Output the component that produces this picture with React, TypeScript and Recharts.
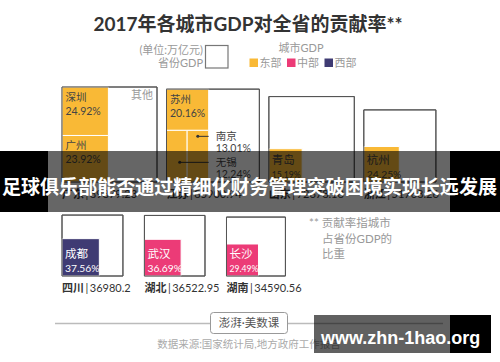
import React from 'react';
import { ScatterChart, Scatter, XAxis, YAxis, ReferenceArea, ReferenceLine, ReferenceDot } from 'recharts';

// ---------------- data ----------------
const provinces = ['广东', '江苏', '山东', '浙江', '四川', '湖北', '湖南'];
const provinceGDP = [89879.23, 85900.94, 72678.18, 51768.26, 36980.2, 36522.95, 34590.56];
const provinceRegion = ['东部', '东部', '东部', '东部', '西部', '中部', '中部'];
const provinceRow = [0, 0, 0, 0, 1, 1, 1];
const otherLabelProvinces = ['广东'];

const cityNames = ['深圳', '广州', '苏州', '南京', '无锡', '青岛', '杭州', '成都', '武汉', '长沙'];
const cityProvince = ['广东', '广东', '江苏', '江苏', '江苏', '山东', '浙江', '四川', '湖北', '湖南'];
const cityShare = [24.92, 23.92, 20.16, 13.01, 12.24, 15.19, 24.25, 37.56, 36.69, 29.49];

const regionNames = ['东部', '中部', '西部'];
const regionColors = ['#F9B936', '#EC3B77', '#3F3B73'];

// ---------------- layout ----------------
const W = 500;
const H = 362;
const FONT = "Lato, 'Noto Sans CJK SC', sans-serif";
const MAX_SIDE = 95;
const ROW_BOTTOM = [182, 276];
const ROW_LEFT = 62;
const ROW_GAP = [9.5, 21.5];
const k = MAX_SIDE / Math.sqrt(Math.max(...provinceGDP));

type Box = { name: string; gdp: number; region: string; x: number; top: number; bottom: number; side: number };
const boxes: Box[] = [];
const cursor = [ROW_LEFT, ROW_LEFT];
provinces.forEach((p, i) => {
  const r = provinceRow[i];
  const s = k * Math.sqrt(provinceGDP[i]);
  boxes.push({ name: p, gdp: provinceGDP[i], region: provinceRegion[i], x: cursor[r], top: ROW_BOTTOM[r] - s, bottom: ROW_BOTTOM[r], side: s });
  cursor[r] += s + ROW_GAP[r];
});

type Cell = { name: string; share: number; x1: number; x2: number; y1: number; y2: number; color: string; mode: string };
const cells: Cell[] = [];
boxes.forEach((b) => {
  const idx = cityProvince.map((c, i) => (c === b.name ? i : -1)).filter((i) => i >= 0);
  const shares = idx.map((i) => cityShare[i] / 100);
  const color = regionColors[regionNames.indexOf(b.region)];
  if (idx.length === 1) {
    const s = b.side * Math.sqrt(shares[0]);
    cells.push({ name: cityNames[idx[0]], share: cityShare[idx[0]], x1: b.x, x2: b.x + s, y1: b.bottom - s, y2: b.bottom, color, mode: 'bottom' });
  } else {
    const total = shares.reduce((a, v) => a + v, 0);
    const w = b.side * total;
    const h1 = (b.side * shares[0]) / total;
    cells.push({ name: cityNames[idx[0]], share: cityShare[idx[0]], x1: b.x, x2: b.x + w, y1: b.top, y2: b.top + h1, color, mode: 'top' });
    if (idx.length === 2) {
      cells.push({ name: cityNames[idx[1]], share: cityShare[idx[1]], x1: b.x, x2: b.x + w, y1: b.top + h1, y2: b.bottom, color, mode: 'top' });
    } else {
      const rest = shares[1] + shares[2];
      const wl = (w * shares[2]) / rest;
      cells.push({ name: cityNames[idx[1]], share: cityShare[idx[1]], x1: b.x + wl, x2: b.x + w, y1: b.top + h1, y2: b.bottom, color, mode: 'pointer0' });
      cells.push({ name: cityNames[idx[2]], share: cityShare[idx[2]], x1: b.x, x2: b.x + wl, y1: b.top + h1, y2: b.bottom, color, mode: 'pointer1' });
    }
  }
});

type Lab = { x: number; y: number; name: string; value: string; color: string; nameSize: number; valueSize: number; gap: number };
const labels: Lab[] = [];
type Ptr = { x1: number; x2: number; y: number };
const pointers: Ptr[] = [];
const colRightOf = (c: Cell) => (c.mode === 'pointer0' ? c.x2 : cells.find((o) => o.mode === 'pointer0')!.x2);
cells.forEach((c) => {
  const value = c.share.toFixed(2) + '%';
  const w = c.x2 - c.x1;
  const txt = c.color === regionColors[0] ? '#444' : '#fff';
  if (c.mode === 'top') {
    labels.push({ x: c.x1 + 3.5, y: c.y1 + 14, name: c.name, value, color: txt, nameSize: 10.5, valueSize: 10.5, gap: 13.5 });
  } else if (c.mode === 'bottom') {
    labels.push({ x: c.x1 + 3, y: c.y2 - 18, name: c.name, value, color: txt, nameSize: 11.5, valueSize: w < 33.5 ? 8.6 : 10.3, gap: 13.5 });
  } else {
    const py = c.y1 + (c.mode === 'pointer0' ? 6 : 32);
    const colRight = colRightOf(c);
    pointers.push({ x1: (c.x1 + c.x2) / 2 + (c.mode === 'pointer1' ? 3 : 0), x2: colRight, y: py });
    labels.push({ x: colRight + 7, y: py + 4, name: c.name, value, color: '#444', nameSize: 10.5, valueSize: 10.5, gap: 12 });
  }
});

const provLabels = boxes.map((b) => ({ x: b.x, y: b.bottom + 15.5, name: b.name, value: String(b.gdp) }));
const otherLabels = boxes.filter((b) => otherLabelProvinces.includes(b.name)).map((b) => ({ x: b.x + b.side - 4, y: b.top + 12 }));

// ---------------- shapes ----------------
const renderCityLabel = (props: any) => {
  const { cx, cy, payload } = props;
  if (cx == null || cy == null) return <g />;
  return (
    <g>
      <text x={cx} y={cy} fontSize={payload.nameSize} fill={payload.color} fontFamily={FONT}>{payload.name}</text>
      <text x={cx} y={cy + payload.gap} fontSize={payload.valueSize} fill={payload.color} fontFamily={FONT}>{payload.value}</text>
    </g>
  );
};

const renderProvLabel = (props: any) => {
  const { cx, cy, payload } = props;
  if (cx == null || cy == null) return <g />;
  return (
    <text x={cx} y={cy} fontSize={11} fill="#333" fontFamily={FONT}>
      <tspan fontWeight={700}>{payload.name}</tspan>
      <tspan dx={1.5}>|</tspan>
      <tspan dx={1.5}>{payload.value}</tspan>
    </text>
  );
};

const renderOther = (props: any) => {
  const { cx, cy } = props;
  if (cx == null || cy == null) return <g />;
  return <text x={cx} y={cy} fontSize={11} fill="#999" textAnchor="end" fontFamily={FONT}>其他</text>;
};

// ---------------- overlay (title, legend, notes, banner) ----------------
const Overlay = () => (
  <svg width={W} height={H} style={{ position: 'absolute', left: 0, top: 0, pointerEvents: 'none' }} fontFamily={FONT}>
    <text x={248} y={31} textAnchor="middle" fontSize={19} fontWeight={700} fill="#333">2017年各城市GDP对全省的贡献率**</text>
    <text x={203} y={54} textAnchor="end" fontSize={11} fill="#999">(单位:万亿元)</text>
    <text x={203} y={67} textAnchor="end" fontSize={11} fill="#999">省份GDP</text>
    <rect x={205.5} y={45.5} width={22.5} height={22.5} fill="#fff" stroke="#777" strokeWidth={1.2} />
    <text x={301} y={52} textAnchor="middle" fontSize={11} fill="#999">城市GDP</text>
    {regionNames.map((r, i) => (
      <g key={r}>
        <rect x={249.5 + i * 37.5} y={58.5} width={8.5} height={8.5} fill={regionColors[i]} />
        <text x={259.5 + i * 37.5} y={67} fontSize={11} fill="#999">{r}</text>
      </g>
    ))}
    <text x={309} y={227} fontSize={11.5} fill="#999">** 贡献率指城市</text>
    <text x={322} y={243} fontSize={11.5} fill="#999">占省份GDP的</text>
    <text x={322} y={258} fontSize={11.5} fill="#999">比重</text>
    <line x1={55} x2={443} y1={323.5} y2={323.5} stroke="#bbb" strokeWidth={1.5} />
    <rect x={210.5} y={312.5} width={77} height={21} rx={3} fill="#fff" stroke="#999" strokeWidth={1} />
    <text x={249} y={327} textAnchor="middle" fontSize={11.5} fill="#555">澎湃·美数课</text>
    <text x={249} y={348} textAnchor="middle" fontSize={10.5} fill="#aaa">数据来源:国家统计局,地方政府工作报告</text>
    {/* banner */}
    <rect x={0} y={151} width={48} height={61} fill="#000" />
    <rect x={450} y={151} width={50} height={61} fill="#000" />
    <rect x={48} y={151} width={402} height={61} fill="rgba(0,0,0,0.6)" />
    <text x={2} y={194} fontSize={19.5} fontWeight={700} fill="#fff" textLength={495} lengthAdjust="spacingAndGlyphs" fontFamily="'Noto Sans CJK SC', sans-serif">足球俱乐部能否通过精细化财务管理突破困境实现长远发展</text>
    {/* watermark */}
    <rect x={314} y={315} width={136} height={38} fill="rgba(0,0,0,0.62)" />
    <rect x={450} y={315} width={41} height={38} fill="#000" />
    <text x={321} y={344} fontSize={18} fontWeight={700} fill="#fff" fontFamily="'Liberation Sans', Arial, sans-serif">www.zhn-1hao.org</text>
  </svg>
);

export default function App() {
  return (
    <div style={{ position: 'absolute', left: 0, top: 0, width: W, height: H, background: '#fff' }}>
      <ScatterChart width={W} height={H} margin={{ top: 0, right: 0, bottom: 0, left: 0 }}>
        <XAxis type="number" dataKey="x" domain={[0, W]} hide allowDataOverflow />
        <YAxis type="number" dataKey="y" domain={[0, H]} reversed hide allowDataOverflow />
        {boxes.map((b) => (
          <ReferenceArea key={'b' + b.name} x1={b.x} x2={b.x + b.side} y1={b.top} y2={b.bottom} fill="#fff" fillOpacity={1} stroke="#555" strokeWidth={1} ifOverflow="visible" />
        ))}
        {cells.map((c) => (
          <ReferenceArea key={'c' + c.name} x1={c.x1} x2={c.x2} y1={c.y1} y2={c.y2} fill={c.color} fillOpacity={1} stroke="#fff" strokeWidth={1} ifOverflow="visible" />
        ))}
        {boxes.map((b) => (
          <ReferenceArea key={'o' + b.name} x1={b.x} x2={b.x + b.side} y1={b.top} y2={b.bottom} fill="none" stroke="#555" strokeWidth={1} ifOverflow="visible" />
        ))}
        {pointers.map((p, i) => (
          <ReferenceLine key={'l' + i} segment={[{ x: p.x1, y: p.y }, { x: p.x2, y: p.y }]} stroke="#333" strokeWidth={1} ifOverflow="visible" />
        ))}
        {pointers.map((p, i) => (
          <ReferenceDot key={'d' + i} x={p.x1} y={p.y} r={1.5} fill="#333" stroke="none" ifOverflow="visible" />
        ))}
        <Scatter data={labels} shape={renderCityLabel} isAnimationActive={false} />
        <Scatter data={provLabels} shape={renderProvLabel} isAnimationActive={false} />
        <Scatter data={otherLabels} shape={renderOther} isAnimationActive={false} />
      </ScatterChart>
      <Overlay />
    </div>
  );
}
